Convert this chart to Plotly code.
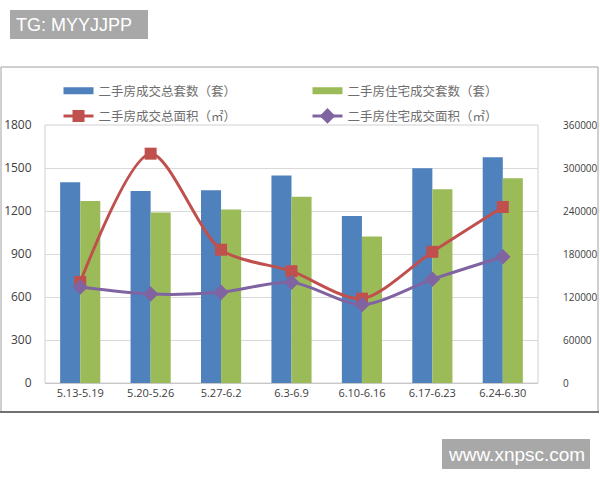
import plotly.graph_objects as go

categories = ["5.13-5.19", "5.20-5.26", "5.27-6.2", "6.3-6.9", "6.10-6.16", "6.17-6.23", "6.24-6.30"]
total_units = [1400, 1340, 1345, 1447, 1165, 1498, 1575]
resid_units = [1270, 1190, 1210, 1300, 1022, 1351, 1428]
total_area = [141000, 320000, 186000, 156000, 117700, 183000, 245600]
resid_area = [134000, 124200, 126500, 140500, 109300, 144700, 176100]

names = ["二手房成交总套数（套）", "二手房住宅成交套数（套）", "二手房成交总面积（㎡）", "二手房住宅成交面积（㎡）"]
colors = ["#4F81BD", "#9BBB59", "#C0504D", "#8064A2"]

W, H = 600, 480
L, R, T, B = 45, 538, 125, 383


def px(x):
    return (x - L) / (R - L)


def py(y):
    return (B - y) / (B - T)


fig = go.Figure()
fig.add_trace(go.Bar(x=categories, y=total_units, name=names[0], marker_color=colors[0], marker_line_width=0,
                     showlegend=False))
fig.add_trace(go.Bar(x=categories, y=resid_units, name=names[1], marker_color=colors[1], marker_line_width=0,
                     showlegend=False))
# legend keys for the bars (wide flat swatches as in the original)
fig.add_trace(go.Scatter(x=[None], y=[None], name=names[0], mode="lines", legend="legend", legendgroup="a",
                         line=dict(color=colors[0], width=7)))
fig.add_trace(go.Scatter(x=[None], y=[None], name=names[1], mode="lines", legend="legend2", legendgroup="b",
                         line=dict(color=colors[1], width=7)))
fig.add_trace(go.Scatter(x=categories, y=total_area, name=names[2], yaxis="y2", mode="lines+markers",
                         legend="legend", legendgroup="c",
                         line=dict(color=colors[2], width=3, shape="spline", smoothing=0.8),
                         marker=dict(symbol="square", size=12, color=colors[2])))
fig.add_trace(go.Scatter(x=categories, y=resid_area, name=names[3], yaxis="y2", mode="lines+markers",
                         legend="legend2", legendgroup="d",
                         line=dict(color=colors[3], width=3, shape="spline", smoothing=0.8),
                         marker=dict(symbol="diamond", size=12, color=colors[3])))

shapes = [
    # outer chart frame
    dict(type="rect", xref="paper", yref="paper", x0=px(1), x1=px(598), y0=py(412), y1=py(67),
         line=dict(color="#a0a0a0", width=1), layer="below"),
    dict(type="line", xref="paper", yref="paper", x0=px(0), x1=px(599), y0=py(412), y1=py(412),
         line=dict(color="#707070", width=2)),
    # plot area border
    dict(type="rect", xref="paper", yref="paper", x0=0, x1=1, y0=0, y1=1,
         line=dict(color="#d0d0d0", width=1), layer="below"),
    # watermark boxes
    dict(type="rect", xref="paper", yref="paper", x0=px(10), x1=px(148), y0=py(39), y1=py(10),
         fillcolor="#a8a8a8", line_width=0),
    dict(type="rect", xref="paper", yref="paper", x0=px(442), x1=px(590), y0=py(469), y1=py(439),
         fillcolor="#a8a8a8", line_width=0),
]

annotations = [
    dict(text="TG: MYYJJPP", xref="paper", yref="paper", x=px(14), y=py(24.5), xanchor="left", yanchor="middle",
         showarrow=False, font=dict(family="Liberation Sans, Arial", size=18, color="white")),
    dict(text="www.xnpsc.com", xref="paper", yref="paper", x=px(516), y=py(454), xanchor="center", yanchor="middle",
         showarrow=False, font=dict(family="Liberation Sans, Arial", size=19, color="white")),
]

legend_font = dict(family="Noto Sans CJK SC", size=12.5, color="#6e6e6e")
legend_common = dict(orientation="v", xref="container", yref="container", xanchor="left", yanchor="top",
                     traceorder="grouped", tracegroupgap=6, font=legend_font,
                     bgcolor="rgba(0,0,0,0)", itemwidth=30)

fig.update_layout(
    width=W, height=H,
    margin=dict(l=L, r=W - R, t=T, b=H - B, autoexpand=False),
    paper_bgcolor="white", plot_bgcolor="white",
    barmode="group", bargap=0.43, bargroupgap=0,
    shapes=shapes, annotations=annotations,
    showlegend=True,
    legend=dict(x=58.5 / W, y=1 - 76 / H, **legend_common),
    legend2=dict(x=307.5 / W, y=1 - 76 / H, **legend_common),
    xaxis=dict(showgrid=False, showline=True, linecolor="#c8c8c8", ticks="",
               tickfont=dict(family="Open Sans, Liberation Sans", size=11, color="#404040")),
    yaxis=dict(range=[0, 1800], dtick=300, showgrid=True, gridcolor="#d9d9d9", zeroline=False,
               showline=False, ticks="outside", ticklen=10, tickcolor="rgba(0,0,0,0)",
               tickfont=dict(family="Open Sans, Liberation Sans", size=12, color="#404040")),
    yaxis2=dict(range=[0, 360000], dtick=60000, overlaying="y", side="right", showgrid=False,
                zeroline=False, tickformat="d", ticks="outside", ticklen=22, tickcolor="rgba(0,0,0,0)",
                tickfont=dict(family="Open Sans, Liberation Sans", size=10, color="#404040")),
)

fig.write_html("out.html", config={"displayModeBar": False},
               post_script="document.body.style.margin='0';")
